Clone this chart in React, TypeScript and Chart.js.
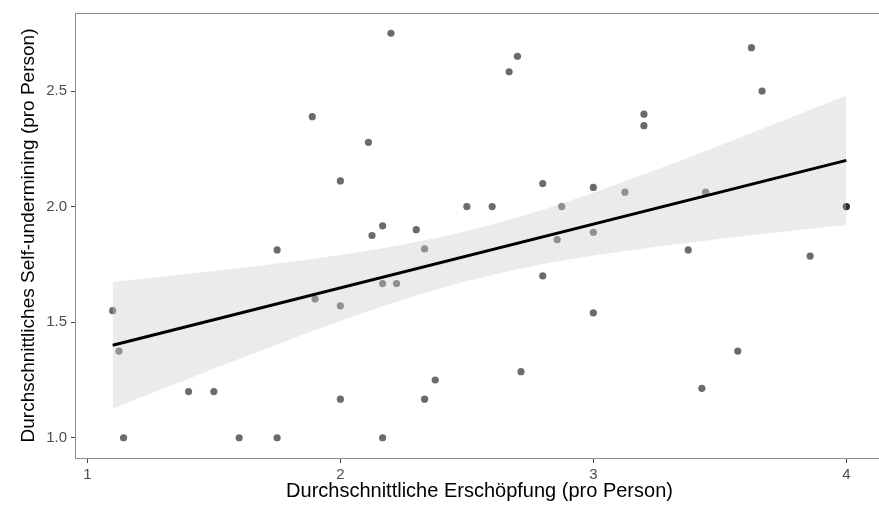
import { useEffect, useRef } from "react";
import { Chart, registerables } from "chart.js";

Chart.register(...registerables);

// Scatter points (Durchschnittliche Erschöpfung, Durchschnittliches Self-undermining)
const pointX = [
  1.1, 1.125, 1.143, 1.4, 1.5, 1.6, 1.75, 1.75, 1.889, 1.9,
  2.0, 2.0, 2.0, 2.111, 2.125, 2.167, 2.167, 2.167, 2.2, 2.222,
  2.3, 2.333, 2.333, 2.375, 2.5, 2.6, 2.667, 2.7, 2.714, 2.8,
  2.8, 2.857, 2.875, 3.0, 3.0, 3.0, 3.125, 3.2, 3.2, 3.375,
  3.429, 3.444, 3.571, 3.625, 3.667, 3.857, 4.0, 4.0,
];
const pointY = [
  1.55, 1.375, 1.0, 1.2, 1.2, 1.0, 1.0, 1.8125, 2.389, 1.6,
  2.111, 1.571, 1.167, 2.278, 1.875, 1.917, 1.667, 1.0, 2.75, 1.667,
  1.9, 1.817, 1.167, 1.25, 2.0, 2.0, 2.583, 2.65, 1.286, 2.1,
  1.7, 1.857, 2.0, 2.083, 1.889, 1.54, 2.0625, 2.4, 2.35, 1.8125,
  1.214, 2.0625, 1.375, 2.6875, 2.5, 1.786, 2.0, 2.0,
];

// Regression line (read at both ends)
const fitX = [1.1, 4.0];
const fitY = [1.4, 2.2];

// Confidence band
const bandX = [1.1, 1.25, 1.5, 1.75, 2.0, 2.25, 2.5, 2.75, 3.0, 3.25, 3.5, 3.75, 4.0];
const bandLower = [1.126, 1.191, 1.299, 1.404, 1.505, 1.598, 1.678, 1.74, 1.788, 1.826, 1.86, 1.891, 1.92];
const bandUpper = [1.674, 1.691, 1.721, 1.754, 1.791, 1.836, 1.894, 1.97, 2.06, 2.16, 2.264, 2.372, 2.481];

const xTicks = [1, 2, 3, 4];
const yTicks = [1.0, 1.5, 2.0, 2.5];
const xTitle = "Durchschnittliche Erschöpfung (pro Person)";
const yTitle = "Durchschnittliches Self-undermining (pro Person)";

const FONT = "'Liberation Sans', Arial, Helvetica, sans-serif";

const panelBorder = {
  id: "panelBorder",
  afterDatasetsDraw(chart: any) {
    const { ctx, chartArea: a } = chart;
    ctx.save();
    ctx.strokeStyle = "#8c8c8c";
    ctx.lineWidth = 1;
    ctx.strokeRect(Math.round(a.left) - 0.5, Math.round(a.top) + 0.5, a.right - a.left, a.bottom - a.top);
    ctx.restore();
  },
};

export default function App() {
  const ref = useRef<HTMLCanvasElement | null>(null);

  useEffect(() => {
    if (!ref.current) return;
    const zip = (xs: number[], ys: number[]) => xs.map((x, i) => ({ x, y: ys[i] }));
    const chart = new Chart(ref.current, {
      type: "scatter",
      data: {
        datasets: [
          {
            type: "scatter",
            data: zip(pointX, pointY),
            pointRadius: 3.6,
            pointHoverRadius: 3.6,
            backgroundColor: "rgba(0,0,0,0.58)",
            borderWidth: 0,
            order: 2,
          } as any,
          {
            type: "line",
            data: zip(bandX, bandLower),
            borderWidth: 0,
            pointRadius: 0,
            fill: false,
            cubicInterpolationMode: "monotone",
            order: 1,
          } as any,
          {
            type: "line",
            data: zip(bandX, bandUpper),
            borderWidth: 0,
            borderColor: "rgba(0,0,0,0)",
            pointRadius: 0,
            fill: "-1",
            backgroundColor: "rgba(202,202,202,0.38)",
            cubicInterpolationMode: "monotone",
            order: 1,
          } as any,
          {
            type: "line",
            data: zip(fitX, fitY),
            borderColor: "#000000",
            borderWidth: 3,
            pointRadius: 0,
            fill: false,
            order: 0,
          } as any,
        ],
      },
      options: {
        animation: false,
        responsive: true,
        maintainAspectRatio: false,
        layout: { padding: { left: 0, top: 12, right: 9, bottom: 0 } },
        plugins: {
          legend: { display: false },
          tooltip: { enabled: false },
        },
        scales: {
          x: {
            type: "linear",
            min: 0.955,
            max: 4.145,
            afterBuildTicks: (s: any) => {
              s.ticks = xTicks.map((v) => ({ value: v }));
            },
            afterFit: (s: any) => {
              s.height = 48;
            },
            grid: { drawOnChartArea: false, drawTicks: true, tickLength: 5, color: "#444" },
            border: { display: false },
            ticks: {
              padding: 3,
              color: "#4d4d4d",
              font: { family: FONT, size: 15 },
              callback: (v: any) => String(v),
            },
            title: {
              display: true,
              text: xTitle,
              color: "#000",
              font: { family: FONT, size: 20 },
              padding: { top: 0, bottom: 3 },
            },
          },
          y: {
            type: "linear",
            min: 0.9125,
            max: 2.8375,
            afterBuildTicks: (s: any) => {
              s.ticks = yTicks.map((v) => ({ value: v }));
            },
            afterFit: (s: any) => {
              s.width = 76;
            },
            grid: { drawOnChartArea: false, drawTicks: true, tickLength: 5, color: "#444" },
            border: { display: false },
            ticks: {
              padding: 4,
              color: "#4d4d4d",
              font: { family: FONT, size: 15 },
              callback: (v: any) => Number(v).toFixed(1),
            },
            title: {
              display: true,
              text: yTitle,
              color: "#000",
              font: { family: FONT, size: 19 },
              padding: { top: 17, bottom: 0 },
            },
          },
        },
      },
      plugins: [panelBorder],
    });
    return () => chart.destroy();
  }, []);

  return (
    <div
      style={{
        position: "fixed",
        left: 0,
        top: 0,
        width: 879,
        height: 506,
        overflow: "hidden",
        background: "#fff",
      }}
    >
      <div style={{ position: "relative", width: 892, height: 506 }}>
        <canvas ref={ref} />
      </div>
    </div>
  );
}
